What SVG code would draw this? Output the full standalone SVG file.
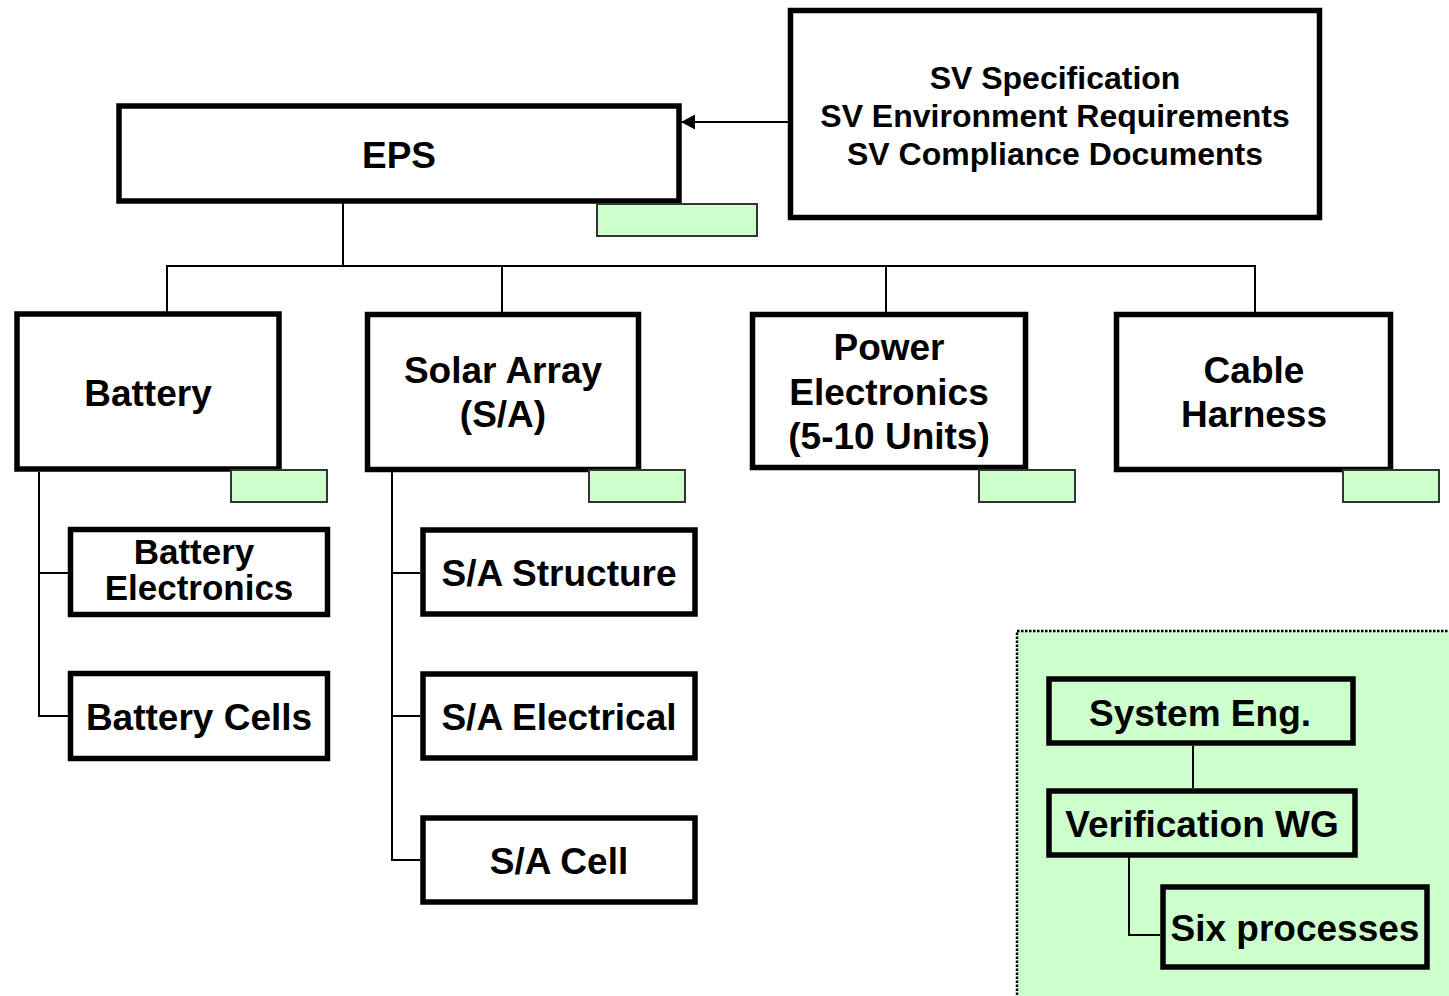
<svg xmlns="http://www.w3.org/2000/svg" width="1449" height="996" viewBox="0 0 1449 996">
<style>
.box{fill:#fff;stroke:#000;stroke-width:5.5}
.gbox{fill:#ccffcc;stroke:#000;stroke-width:5.5}
.tag{fill:#ccffcc;stroke:#333;stroke-width:2}
.t{font-family:"Liberation Sans",Arial,sans-serif;font-weight:bold;font-size:37px;text-anchor:middle;fill:#000}
.s{font-size:32px}
.n{font-size:35px}
.c{stroke:#000;stroke-width:2;fill:none}
</style>
<defs>
<marker id="ah" markerWidth="14" markerHeight="15" refX="14" refY="7.5" orient="auto" markerUnits="userSpaceOnUse">
<path d="M0,0 L14,7.5 L0,15 Z" fill="#000"/>
</marker>
</defs>
<rect x="1017" y="631" width="440" height="370" fill="#ccffcc" stroke="#000" stroke-width="2.5" stroke-dasharray="2.5,1.5"/>
<g id="connectors">
<line class="c" x1="790" y1="122" x2="681" y2="122" marker-end="url(#ah)"/>
<polyline class="c" points="343,203 343,266"/>
<polyline class="c" points="167,312 167,266 1255,266 1255,312"/>
<line class="c" x1="502" y1="266" x2="502" y2="312"/>
<line class="c" x1="886" y1="266" x2="886" y2="312"/>
<polyline class="c" points="39,472 39,716 68,716"/>
<line class="c" x1="39" y1="573" x2="68" y2="573"/>
<polyline class="c" points="392,472 392,860 420,860"/>
<line class="c" x1="392" y1="573" x2="420" y2="573"/>
<line class="c" x1="392" y1="716" x2="420" y2="716"/>
<line class="c" x1="1193" y1="746" x2="1193" y2="788"/>
<polyline class="c" points="1129,857 1129,935 1160,935"/>
</g>
<g id="sv">
<rect class="box" x="790.5" y="10.5" width="529" height="207"/>
<text class="t s" x="1055" y="89">SV Specification</text>
<text class="t s" x="1055" y="127">SV Environment Requirements</text>
<text class="t s" x="1055" y="165">SV Compliance Documents</text>
</g>
<g id="eps">
<rect class="box" x="119" y="106" width="560" height="95"/>
<rect class="tag" x="597" y="204" width="160" height="32"/>
<text class="t" x="399" y="168">EPS</text>
</g>
<g id="battery">
<rect class="box" x="17" y="314" width="262" height="155"/>
<rect class="tag" x="231" y="470" width="96" height="32"/>
<text class="t" x="148" y="406">Battery</text>
</g>
<g id="solar-array">
<rect class="box" x="367.5" y="314.5" width="271" height="155"/>
<rect class="tag" x="589" y="470" width="96" height="32"/>
<text class="t" x="503" y="383">Solar Array</text>
<text class="t" x="503" y="427">(S/A)</text>
</g>
<g id="power-electronics">
<rect class="box" x="752.5" y="314.5" width="273" height="153"/>
<rect class="tag" x="979" y="470" width="96" height="32"/>
<text class="t" x="889" y="360">Power</text>
<text class="t" x="889" y="405">Electronics</text>
<text class="t" x="889" y="449">(5-10 Units)</text>
</g>
<g id="cable-harness">
<rect class="box" x="1116.5" y="314.5" width="274" height="155"/>
<rect class="tag" x="1343" y="470" width="96" height="32"/>
<text class="t" x="1254" y="383">Cable</text>
<text class="t" x="1254" y="427">Harness</text>
</g>
<g id="battery-electronics">
<rect class="box" x="70.5" y="529.5" width="257" height="85"/>
<text class="t n" x="194" y="564">Battery</text>
<text class="t n" x="199" y="600">Electronics</text>
</g>
<g id="battery-cells">
<rect class="box" x="70.5" y="673.5" width="257" height="85"/>
<text class="t" x="199" y="730">Battery Cells</text>
</g>
<g id="sa-structure">
<rect class="box" x="423" y="530" width="272" height="84"/>
<text class="t" x="559" y="586">S/A Structure</text>
</g>
<g id="sa-electrical">
<rect class="box" x="423" y="674" width="272" height="84"/>
<text class="t" x="559" y="730">S/A Electrical</text>
</g>
<g id="sa-cell">
<rect class="box" x="423" y="818" width="272" height="84"/>
<text class="t" x="559" y="874">S/A Cell</text>
</g>
<g id="system-eng">
<rect class="gbox" x="1049" y="679" width="304" height="64"/>
<text class="t" x="1200" y="726">System Eng.</text>
</g>
<g id="verification-wg">
<rect class="gbox" x="1049" y="791" width="306" height="64"/>
<text class="t" x="1202" y="837">Verification WG</text>
</g>
<g id="six-processes">
<rect class="gbox" x="1163" y="887" width="264" height="80"/>
<text class="t" x="1295" y="941">Six processes</text>
</g>
</svg>
